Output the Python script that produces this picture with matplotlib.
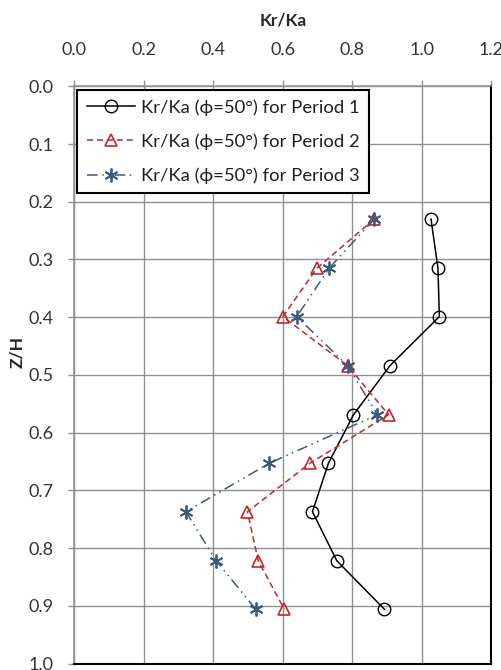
import matplotlib
matplotlib.use("Agg")
import matplotlib.pyplot as plt

# Relative depth Z/H and earth-pressure ratio Kr/Ka for three periods
depth = [0.230, 0.315, 0.399, 0.484, 0.569, 0.653, 0.737, 0.822, 0.906]
kr_period1 = [1.026, 1.046, 1.050, 0.908, 0.803, 0.731, 0.685, 0.755, 0.892]
kr_period2 = [0.863, 0.698, 0.600, 0.786, 0.904, 0.678, 0.498, 0.529, 0.604]
kr_period3 = [0.863, 0.733, 0.640, 0.786, 0.872, 0.561, 0.321, 0.408, 0.522]

series_labels = [
    "Kr/Ka (\u03d5=50°) for Period 1",
    "Kr/Ka (\u03d5=50°) for Period 2",
    "Kr/Ka (\u03d5=50°) for Period 3",
]
x_ticks = [0.0, 0.2, 0.4, 0.6, 0.8, 1.0, 1.2]
y_ticks = [0.0, 0.1, 0.2, 0.3, 0.4, 0.5, 0.6, 0.7, 0.8, 0.9, 1.0]

FONT = ["Lato", "DejaVu Sans"]
plt.rcParams["font.family"] = FONT

W, H = 502, 670
fig = plt.figure(figsize=(W / 100, H / 100), dpi=100)
left, right, top, bottom = 74.3, 491.5, 86.3, 663.5
ax = fig.add_axes([left / W, 1 - bottom / H, (right - left) / W, (bottom - top) / H])

ax.set_xlim(0.0, 1.2)
ax.set_ylim(1.0, 0.0)
ax.xaxis.tick_top()
ax.xaxis.set_label_position("top")
ax.set_xticks(x_ticks)
ax.set_yticks(y_ticks)
ax.set_xticklabels([f"{v:.1f}" for v in x_ticks])
ax.set_yticklabels([f"{v:.1f}" for v in y_ticks])

grid_c = "#8f8f8f"
ax.tick_params(axis="x", direction="out", length=4.3, width=1.0, color=grid_c,
               pad=16, labelsize=13, labelcolor="#333333")
ax.tick_params(axis="y", direction="out", length=4.3, width=1.0, color=grid_c,
               pad=10.5, labelsize=13, labelcolor="#333333")

ax.grid(True, color=grid_c, linewidth=1.0, linestyle="-")
ax.set_axisbelow(True)

ax.spines["left"].set_color(grid_c)
ax.spines["top"].set_color(grid_c)
ax.spines["left"].set_linewidth(1.1)
ax.spines["top"].set_linewidth(1.1)
ax.spines["right"].set_color("black")
ax.spines["bottom"].set_color("black")
ax.spines["right"].set_linewidth(1.5)
ax.spines["bottom"].set_linewidth(1.5)

ax.plot(kr_period1, depth, color="black", linewidth=1.1, linestyle="-",
        marker="o", markersize=9, markerfacecolor="none", markeredgecolor="black",
        markeredgewidth=1.0, label=series_labels[0])
ax.plot(kr_period2, depth, color="#c0272d", linewidth=1.1, linestyle=(0, (4, 2.5)),
        marker="^", markersize=9, markerfacecolor="none", markeredgecolor="#c0272d",
        markeredgewidth=1.2, label=series_labels[1])
ax.plot(kr_period3, depth, color="#3d5a7a", linewidth=1.1,
        linestyle=(0, (7, 3, 1, 3, 1, 3)),
        marker=(6, 2, 0), markersize=10, markeredgecolor="#3d5a7a",
        markeredgewidth=1.3, label=series_labels[2])

ax.set_xlabel("Kr/Ka", fontsize=12.5, fontweight="bold", color="#262626")
ax.xaxis.set_label_coords(0.5, (bottom - 20) / (bottom - top))
ax.xaxis.label.set_va("center")
ax.set_ylabel("Z/H", fontsize=12.5, fontweight="bold", color="#262626")
ax.yaxis.set_label_coords((17 - left) / (right - left), (bottom - 352) / (bottom - top))
ax.yaxis.label.set_va("center")

leg = ax.legend(loc="upper left",
                bbox_to_anchor=((77.3 - left) / (right - left), (bottom - 90) / (bottom - top)),
                fontsize=13.3, frameon=True, fancybox=False, framealpha=1,
                edgecolor="black", borderpad=0.5, labelspacing=0.95,
                handlelength=2.6, handletextpad=0.35, borderaxespad=0)
leg.get_frame().set_linewidth(1.5)
for t in leg.get_texts():
    t.set_color("#1f1f1f")

fig.savefig("out.png", dpi=100)
